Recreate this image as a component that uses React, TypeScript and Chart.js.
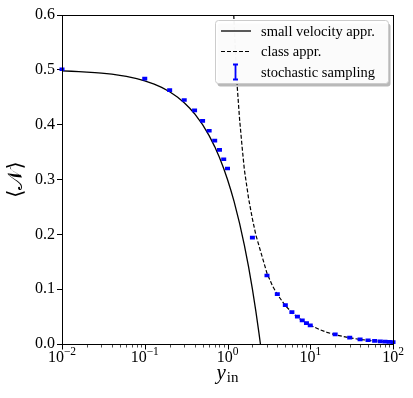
import React, { useEffect, useRef } from 'react';
import { Chart, registerables } from 'chart.js';

Chart.register(...registerables);

const X_MIN = 0.01;
const X_MAX = 100;
const Y_MIN = 0;
const Y_MAX = 0.6;
const Y_STEP = 0.1;
const X_TICK_EXPONENTS = [-2, -1, 0, 1, 2];

// small velocity approximation (solid)
const smallVelX = [0.01, 0.013, 0.016, 0.02, 0.025, 0.03, 0.04, 0.05, 0.06, 0.08, 0.1, 0.13, 0.16, 0.2, 0.25, 0.3, 0.35, 0.4, 0.5, 0.6, 0.7, 0.8, 0.9, 1.0, 1.1, 1.2, 1.4, 1.6, 1.8, 2.0, 2.2, 2.4, 2.5];
const smallVelY = [0.498, 0.4974, 0.4968, 0.496, 0.495, 0.494, 0.492, 0.49, 0.488, 0.484, 0.48, 0.474, 0.468, 0.46, 0.45, 0.44, 0.43, 0.42, 0.40, 0.38, 0.36, 0.34, 0.32, 0.30, 0.28, 0.26, 0.22, 0.18, 0.14, 0.10, 0.06, 0.02, 0.0];

// class approximation (dashed)
const classX = [1.19, 1.25, 1.31, 1.4, 1.5, 1.6, 1.8, 2.0, 2.2, 2.5, 3.0, 3.5, 4, 5, 6, 7, 8, 10, 13, 16, 20, 30, 40, 50, 70, 100];
const classY = [0.60, 0.53, 0.47, 0.41, 0.36, 0.3175, 0.265, 0.228, 0.199, 0.17, 0.129, 0.106, 0.0905, 0.070, 0.0575, 0.049, 0.0428, 0.0343, 0.0262, 0.0211, 0.0169, 0.0112, 0.0084, 0.0067, 0.0048, 0.0034];

// stochastic sampling (error bars)
const sampleX = [0.01, 0.1, 0.2, 0.3, 0.4, 0.5, 0.6, 0.7, 0.8, 0.9, 1, 2, 3, 4, 5, 6, 7, 8, 9, 10, 20, 30, 40, 50, 60, 70, 80, 90, 100];
const sampleY = [0.501, 0.484, 0.463, 0.445, 0.426, 0.407, 0.389, 0.371, 0.354, 0.337, 0.320, 0.194, 0.125, 0.091, 0.071, 0.058, 0.050, 0.043, 0.038, 0.034, 0.0175, 0.0115, 0.0085, 0.0068, 0.0057, 0.0049, 0.0043, 0.0038, 0.0035];
const sampleErr = [0.0015, 0.0015, 0.0015, 0.0015, 0.0015, 0.0015, 0.0015, 0.0015, 0.0015, 0.0015, 0.0015, 0.0015, 0.0015, 0.0015, 0.0015, 0.0015, 0.0015, 0.0015, 0.0015, 0.0015, 0.0015, 0.0015, 0.0015, 0.0015, 0.0015, 0.0015, 0.0015, 0.0015, 0.0015];

const legendLabels = ['small velocity appr.', 'class appr.', 'stochastic sampling'];
const xTitleMain = 'y';
const xTitleSub = 'in';
const yTitle = '\u27E8\uD835\uDCA9\u27E9';

const SERIF = '"Liberation Serif", "DejaVu Serif", serif';
const BLUE = '#0000ff';

const decorPlugin = {
  id: 'decor',
  afterDatasetsDraw(chart: any) {
    const ctx = chart.ctx;
    const xs = chart.scales.x;
    const ys = chart.scales.y;
    const area = chart.chartArea;
    ctx.save();
    ctx.beginPath();
    ctx.rect(area.left - 3, area.top - 3, area.right - area.left + 6, area.bottom - area.top + 6);
    ctx.clip();
    ctx.strokeStyle = BLUE;
    ctx.lineWidth = 2;
    sampleX.forEach((xv, i) => {
      const px = xs.getPixelForValue(xv);
      const top = ys.getPixelForValue(sampleY[i] + sampleErr[i]);
      const bot = ys.getPixelForValue(sampleY[i] - sampleErr[i]);
      ctx.beginPath();
      ctx.moveTo(px, top);
      ctx.lineTo(px, bot);
      ctx.moveTo(px - 2.5, top);
      ctx.lineTo(px + 2.5, top);
      ctx.moveTo(px - 2.5, bot);
      ctx.lineTo(px + 2.5, bot);
      ctx.stroke();
    });
    ctx.restore();
  },
  afterDraw(chart: any) {
    const ctx = chart.ctx;
    const xs = chart.scales.x;
    const area = chart.chartArea;
    ctx.save();
    // frame
    ctx.strokeStyle = '#000';
    ctx.lineWidth = 1;
    ctx.strokeRect(Math.round(area.left) + 0.5, Math.round(area.top) + 0.5,
      Math.round(area.right - area.left), Math.round(area.bottom - area.top));
    // x ticks
    const yb = Math.round(area.bottom) + 0.5;
    for (let e = -2; e <= 2; e++) {
      for (let m = 1; m <= 9; m++) {
        const v = m * Math.pow(10, e);
        if (v > X_MAX + 1e-9) break;
        const px = Math.round(xs.getPixelForValue(v)) + 0.5;
        const major = m === 1;
        ctx.lineWidth = major ? 1 : 0.7;
        ctx.beginPath();
        ctx.moveTo(px, yb);
        ctx.lineTo(px, yb + (major ? 5 : 3));
        ctx.stroke();
      }
    }
    // x tick labels
    ctx.fillStyle = '#000';
    ctx.textBaseline = 'alphabetic';
    ctx.textAlign = 'left';
    X_TICK_EXPONENTS.forEach((e) => {
      const px = xs.getPixelForValue(Math.pow(10, e));
      const base = '10';
      const sup = e < 0 ? '\u2212' + Math.abs(e) : String(e);
      ctx.font = `16px ${SERIF}`;
      const wb = ctx.measureText(base).width;
      ctx.font = `11.5px ${SERIF}`;
      const ws = ctx.measureText(sup).width;
      const left = px - (wb + ws) / 2;
      ctx.font = `16px ${SERIF}`;
      ctx.fillText(base, left, area.bottom + 17.5);
      ctx.font = `11.5px ${SERIF}`;
      ctx.fillText(sup, left + wb, area.bottom + 11);
    });
    // x title
    ctx.font = `italic 21px ${SERIF}`;
    const wm = ctx.measureText(xTitleMain).width;
    ctx.font = `15px ${SERIF}`;
    const wsub = ctx.measureText(xTitleSub).width;
    const cx = (area.left + area.right) / 2;
    const tl = cx - (wm + wsub + 1) / 2;
    ctx.font = `italic 21px ${SERIF}`;
    ctx.fillText(xTitleMain, tl, area.bottom + 35);
    ctx.font = `15px ${SERIF}`;
    ctx.fillText(xTitleSub, tl + wm + 1, area.bottom + 38);
    // y title
    ctx.save();
    ctx.translate(16, (area.top + area.bottom) / 2);
    ctx.rotate(-Math.PI / 2);
    ctx.font = `21px ${SERIF}`;
    ctx.textAlign = 'center';
    ctx.textBaseline = 'middle';
    ctx.fillText(yTitle, 0, 0);
    ctx.restore();
    // legend
    const lx = 215.5, ly = 20.5, lw = 173, lh = 63, r = 3;
    const rr = (x: number, y: number, w: number, h: number) => {
      ctx.beginPath();
      ctx.moveTo(x + r, y);
      ctx.lineTo(x + w - r, y);
      ctx.quadraticCurveTo(x + w, y, x + w, y + r);
      ctx.lineTo(x + w, y + h - r);
      ctx.quadraticCurveTo(x + w, y + h, x + w - r, y + h);
      ctx.lineTo(x + r, y + h);
      ctx.quadraticCurveTo(x, y + h, x, y + h - r);
      ctx.lineTo(x, y + r);
      ctx.quadraticCurveTo(x, y, x + r, y);
      ctx.closePath();
    };
    rr(lx + 2, ly + 3, lw, lh);
    ctx.fillStyle = 'rgba(128,128,128,0.55)';
    ctx.fill();
    rr(lx, ly, lw, lh);
    ctx.fillStyle = 'rgba(255,255,255,0.95)';
    ctx.fill();
    ctx.strokeStyle = '#cccccc';
    ctx.lineWidth = 1;
    ctx.stroke();
    const rows = [31, 51.5, 72];
    ctx.strokeStyle = '#000';
    ctx.lineWidth = 1.3;
    ctx.beginPath();
    ctx.moveTo(221, rows[0]);
    ctx.lineTo(251, rows[0]);
    ctx.stroke();
    ctx.setLineDash([4, 2]);
    ctx.lineWidth = 1.2;
    ctx.beginPath();
    ctx.moveTo(221, rows[1]);
    ctx.lineTo(251, rows[1]);
    ctx.stroke();
    ctx.setLineDash([]);
    ctx.strokeStyle = BLUE;
    ctx.lineWidth = 1.8;
    ctx.beginPath();
    ctx.moveTo(235.5, rows[2] - 7.5);
    ctx.lineTo(235.5, rows[2] + 7.5);
    ctx.moveTo(233, rows[2] - 7.5);
    ctx.lineTo(238, rows[2] - 7.5);
    ctx.moveTo(233, rows[2] + 7.5);
    ctx.lineTo(238, rows[2] + 7.5);
    ctx.stroke();
    ctx.fillStyle = '#000';
    ctx.font = `14.5px ${SERIF}`;
    ctx.textAlign = 'left';
    ctx.textBaseline = 'alphabetic';
    legendLabels.forEach((t, i) => ctx.fillText(t, 261, rows[i] + 4.5));
    ctx.restore();
  },
};

export default function App() {
  const ref = useRef<HTMLCanvasElement | null>(null);
  useEffect(() => {
    if (!ref.current) return;
    const chart = new Chart(ref.current, {
      type: 'line',
      data: {
        datasets: [
          {
            label: legendLabels[0],
            data: smallVelX.map((x, i) => ({ x, y: smallVelY[i] })),
            borderColor: '#000',
            borderWidth: 1.3,
            pointRadius: 0,
            tension: 0,
            fill: false,
          },
          {
            label: legendLabels[1],
            data: classX.map((x, i) => ({ x, y: classY[i] })),
            borderColor: '#000',
            borderWidth: 1.2,
            borderDash: [4, 2],
            pointRadius: 0,
            tension: 0,
            fill: false,
          },
          {
            label: legendLabels[2],
            data: sampleX.map((x, i) => ({ x, y: sampleY[i] })),
            borderColor: BLUE,
            showLine: false,
            pointRadius: 0,
          },
        ],
      },
      options: {
        animation: false,
        responsive: false,
        events: [],
        layout: { padding: { top: 15, right: 20, left: 0, bottom: 0 } },
        plugins: { legend: { display: false }, tooltip: { enabled: false }, title: { display: false } },
        scales: {
          x: {
            type: 'logarithmic',
            min: X_MIN,
            max: X_MAX,
            grid: { display: false },
            border: { display: false },
            ticks: { display: false },
            afterFit: (s: any) => { s.height = 54; },
          },
          y: {
            type: 'linear',
            min: Y_MIN,
            max: Y_MAX,
            ticks: {
              stepSize: Y_STEP,
              callback: (v: any) => Number(v).toFixed(1),
              font: { family: SERIF, size: 16 },
              color: '#000',
              padding: 2,
            },
            grid: { drawOnChartArea: false, drawTicks: true, tickLength: 5, color: '#000', tickColor: '#000' },
            border: { display: false },
            afterFit: (s: any) => { s.width = 62; },
          },
        },
      },
      plugins: [decorPlugin],
    } as any);
    return () => chart.destroy();
  }, []);
  return (
    <div style={{ position: 'fixed', left: 0, top: 0, width: 413, height: 398, background: '#fff' }}>
      <canvas ref={ref} width={413} height={398} />
    </div>
  );
}
